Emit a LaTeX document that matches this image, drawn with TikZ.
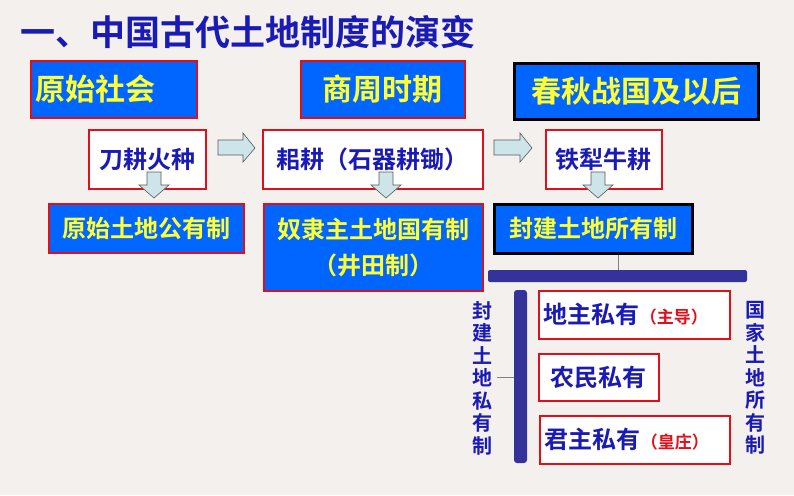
\documentclass[tikz,border=0pt]{standalone}
\usepackage{fontspec}
\setmainfont{Noto Sans CJK SC}
\newfontfamily\cjkb{Noto Sans CJK SC Bold}
\definecolor{bg}{HTML}{F3F0EE}
\definecolor{bl}{HTML}{0066FF}
\definecolor{tb}{HTML}{1A1AB4}
\definecolor{br}{HTML}{333399}
\definecolor{ar}{HTML}{CDE5E8}
\definecolor{yl}{HTML}{FFFF33}
\definecolor{rd}{HTML}{E0101A}
\tikzset{
 era/.style={draw=rd,line width=1.5pt,fill=bl,text=yl,font=\cjkb\fontsize{30}{34}\selectfont,inner sep=0pt},
 erak/.style={era,draw=black,line width=2.5pt},
 wb/.style={draw=rd,line width=1.5pt,fill=white,text=tb,font=\cjkb\fontsize{24}{28}\selectfont,inner sep=0pt},
 sb/.style={draw=rd,line width=1.5pt,fill=bl,text=yl,font=\cjkb\fontsize{24}{36}\selectfont,inner sep=0pt,align=center},
 sbk/.style={sb,draw=black,line width=2.5pt},
 harr/.style={draw=gray!70!black,fill=ar,line width=0.6pt},
 vt/.style={text=tb,font=\cjkb\fontsize{20}{22.5}\selectfont,align=center,inner sep=0pt}
}
\begin{document}
\begin{tikzpicture}[x=1pt,y=-1pt]
\fill[bg] (0,0) rectangle (794,495);
\node[anchor=west,text=tb,font=\cjkb\fontsize{35}{38}\selectfont,inner sep=0pt] (title) at (20,32) {一、中国古代土地制度的演变};
% eras
\node[era,minimum width=166,minimum height=57,anchor=north west,text width=156,align=left] (e1) at (30,60) {原始社会};
\node[era,minimum width=164,minimum height=57,anchor=north west] (e2) at (300,60) {商周时期};
\node[erak,minimum width=244,minimum height=56,anchor=north west] (e3) at (513,62) {春秋战国及以后};
% tools
\node[wb,minimum width=117,minimum height=59,anchor=north west] (t1) at (88,129) {刀耕火种};
\node[wb,minimum width=220,minimum height=59,anchor=north west] (t2) at (262,129) {耜耕（石器耕锄）};
\node[wb,minimum width=116,minimum height=59,anchor=north west] (t3) at (545,129) {铁犁牛耕};
% horizontal arrows
\draw[harr] (218,140)--(243,140)--(243,133)--(255,148)--(243,162)--(243,155)--(218,155)--cycle;
\draw[harr] (494,140)--(520,140)--(520,133)--(532,148)--(520,162)--(520,155)--(494,155)--cycle;
% systems
\node[sb,minimum width=195,minimum height=49,anchor=north west] (s1) at (48,203) {原始土地公有制};
\node[sb,minimum width=219,minimum height=87,anchor=north west] (s2) at (263,203) {奴隶主土地国有制\\（井田制）};
\node[sbk,minimum width=198,minimum height=49,anchor=north west] (s3) at (493,203) {封建土地所有制};
% down arrows
\foreach \x in {154,386,598}{
 \draw[harr] (\x-7,172)--(\x+7,172)--(\x+7,185)--(\x+15,185)--(\x,198)--(\x-15,185)--(\x-7,185)--cycle;
}
% bracket
\coordinate (bt) at (618,270);
\draw[gray,line width=0.8pt] (s3.south -| bt) -- (bt);
\fill[br,rounded corners=2pt] (488,270) rectangle (747,282);
\fill[br,rounded corners=3pt] (514,290) rectangle (527,463);
\draw[gray,line width=0.8pt] (497,377)--(514,377);
% private boxes
\node[wb,minimum width=191,minimum height=48,anchor=north west,text width=181,align=left] (p1) at (538,290) {地主私有{\color{rd}\fontsize{17}{20}\selectfont（主导）}};
\node[wb,minimum width=120,minimum height=47,anchor=north west] (p2) at (538,353) {农民私有};
\node[wb,minimum width=190,minimum height=48,anchor=north west,text width=180,align=left] (p3) at (539,415) {君主私有{\color{rd}\fontsize{17}{20}\selectfont（皇庄）}};
\node[vt] (lv) at (482,378) {封\\建\\土\\地\\私\\有\\制};
\node[vt] (rv) at (755,378) {国\\家\\土\\地\\所\\有\\制};
\end{tikzpicture}
\end{document}
